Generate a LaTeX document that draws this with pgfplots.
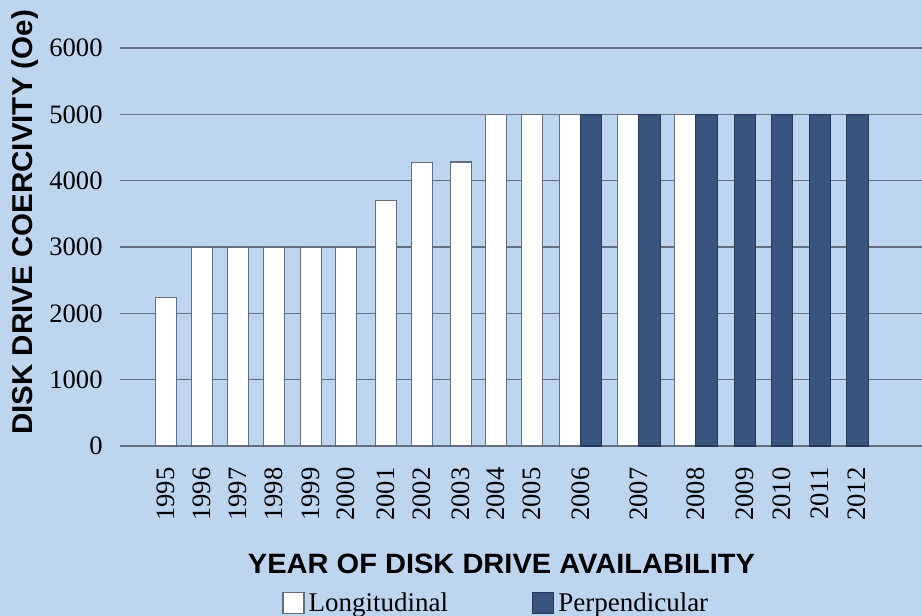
\documentclass[border=0pt]{standalone}
\usepackage{fontspec}
\setmainfont{Liberation Serif}
\setsansfont{Liberation Sans}
\usepackage{pgfplots}
\pgfplotsset{compat=1.18}
\usetikzlibrary{backgrounds}

\definecolor{bgblue}{RGB}{190,213,239}
\definecolor{perpblue}{RGB}{58,84,128}
\definecolor{perpedge}{RGB}{40,58,92}
\definecolor{gridgray}{RGB}{100,112,130}
\definecolor{barline}{RGB}{100,110,124}

\begin{document}
\begin{tikzpicture}
% 1 px of the reference = 0.5pt; axis box spans x 120..922, y 48..446
\begin{axis}[
    at={(0,0)}, anchor=south west,
    scale only axis, width=401pt, height=199pt,
    xmin=120, xmax=922, ymin=0, ymax=6000,
    ybar, bar width=21.5,
    axis line style={draw=none},
    major tick length=0pt,
    ymajorgrids, grid style={gridgray, line width=0.6pt},
    ytick={0,1000,2000,3000,4000,5000,6000},
    yticklabels={0,1000,2000,3000,4000,5000,6000},
    xtick={166,202,238,274,311,346,386,422,461,496,532,581,639,696,745,782,820,857},
    xticklabels={1995,1996,1997,1998,1999,2000,2001,2002,2003,2004,2005,2006,2007,2008,2009,2010,2011,2012},
    tick label style={font=\fontsize{13.3}{15}\selectfont, inner sep=0pt},
    x tick label style={rotate=90, anchor=east},
    xticklabel shift=10.5pt,
    yticklabel shift=8.5pt,
    legend columns=2,
    legend style={at={(axis description cs:0.202,-0.395)}, anchor=west,
        draw=none, fill=none, inner sep=0pt,
        font=\fontsize{13.5}{16}\selectfont,
        nodes={inner sep=2pt},
        /tikz/every even column/.append style={column sep=40pt}},
    legend image code/.code={\draw[#1] (0pt,-5.25pt) rectangle (10.5pt,5.25pt);},
]
% Longitudinal
\addplot[fill=white, draw=barline, line width=0.6pt, bar shift=0pt] coordinates {
    (166,2240) (202,3000) (238,3000) (274,3000) (311,3000) (346,3000)
    (386,3700) (422,4270) (461,4280) (496,5000) (532,5000)
    (570,5000) (628,5000) (685.5,5000)
};
% Perpendicular
\addplot[fill=perpblue, draw=perpedge, line width=0.6pt, bar shift=0pt] coordinates {
    (591,5000) (649.5,5000) (706.5,5000) (745,5000) (782,5000) (820,5000) (857.5,5000)
};
\legend{Longitudinal, Perpendicular}
\end{axis}

% axis titles
\node[anchor=base, inner sep=0pt] at (190.75pt,-63.5pt)
    {\resizebox{253.5pt}{9.75pt}{\sffamily\bfseries YEAR OF DISK DRIVE AVAILABILITY}};
\node[anchor=base, inner sep=0pt, rotate=90] at (-43.5pt,111.75pt)
    {\resizebox{212.5pt}{10.4pt}{\sffamily\bfseries DISK DRIVE COERCIVITY (Oe)}};

% page background and frame of the reference (922 x 616 px)
\begin{scope}[on background layer]
    \fill[bgblue] (-60pt,-85pt) rectangle (401pt,223pt);
\end{scope}
\pgfresetboundingbox
\path[use as bounding box] (-60pt,-85pt) rectangle (401pt,223pt);
\end{tikzpicture}
\end{document}
